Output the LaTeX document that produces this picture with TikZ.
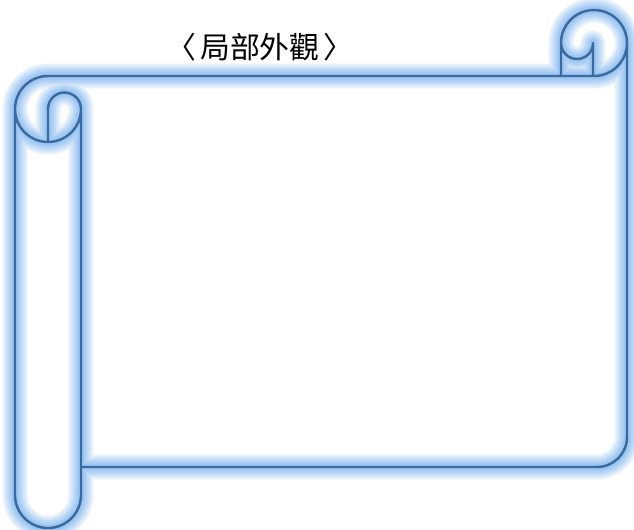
\documentclass[tikz,border=0pt]{standalone}
\usepackage{fontspec}
\newfontfamily\cjk{Noto Sans CJK TC}
\definecolor{scrollblue}{RGB}{58,106,160}
\definecolor{glowblue}{RGB}{110,170,235}

\begin{document}
\begin{tikzpicture}[x=0.02cm,y=0.02cm,
  outline/.style={draw=scrollblue,line width=1.4pt,line join=round},
  glow/.style={draw=glowblue,line width=#1,opacity=0.17,line join=round,line cap=round}]
\useasboundingbox (0,0) rectangle (634,529);
% scroll outline, kept for the glow layers
\path[save path=\scroll]
  (48,453) arc[start angle=90,end angle=360,radius=33]
  (15,420) -- (15,34) arc[start angle=180,end angle=360,radius=33] -- (81,420)
    arc[start angle=0,end angle=180,radius=16.5] -- (48,387)
  (48,453) -- (594,453) arc[start angle=270,end angle=360,radius=33] -- (627,92)
    arc[start angle=0,end angle=-90,radius=30] -- (81,62)
  (561,453) -- (561,486) arc[start angle=180,end angle=0,radius=33]
  (561,486) arc[start angle=180,end angle=360,radius=16] -- (593,453);
\foreach \w in {14pt,11.5pt,9pt,7pt,5pt,3.5pt}
  \draw[glow=\w, use path=\scroll];
\draw[outline, use path=\scroll];
\node (title) at (260,482) {\cjk\fontsize{17}{20}\selectfont 〈\hspace{2pt}局部外觀\hspace{2pt}〉};
\end{tikzpicture}
\end{document}
